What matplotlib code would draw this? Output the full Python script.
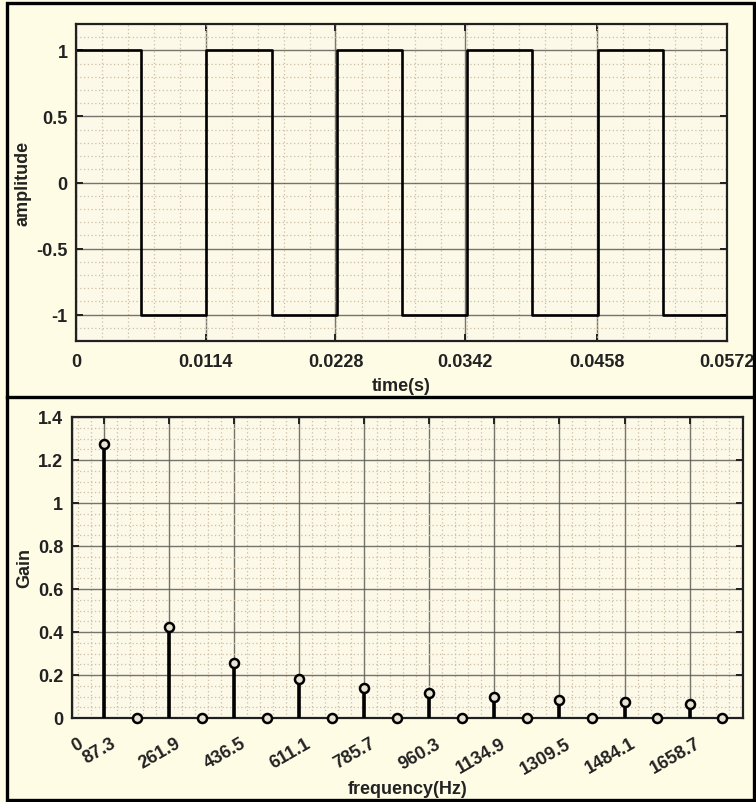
import matplotlib
matplotlib.use("Agg")
import matplotlib.pyplot as plt
from matplotlib.patches import Rectangle
from matplotlib.lines import Line2D
from matplotlib.ticker import MultipleLocator, FixedLocator
from matplotlib.transforms import ScaledTranslation

# Square wave (87.3 Hz)
edge_times = [0, 0.00573, 0.01146, 0.01719, 0.02292, 0.02865,
              0.03438, 0.04011, 0.04584, 0.05157, 0.0572]
levels = [1, -1, 1, -1, 1, -1, 1, -1, 1, -1]
time_ticks = [0, 0.0114, 0.0228, 0.0342, 0.0458, 0.0572]
time_labels = ["0", "0.0114", "0.0228", "0.0342", "0.0458", "0.0572"]

# Spectrum
freqs = [87.3, 174.6, 261.9, 349.2, 436.5, 523.8, 611.1, 698.4, 785.7, 873.0,
         960.3, 1047.6, 1134.9, 1222.2, 1309.5, 1396.8, 1484.1, 1571.4, 1658.7, 1746.0]
gains = [1.273, 0, 0.424, 0, 0.255, 0, 0.182, 0, 0.141, 0,
         0.116, 0, 0.098, 0, 0.085, 0, 0.075, 0, 0.067, 0]
freq_ticks = [0, 87.3, 261.9, 436.5, 611.1, 785.7, 960.3, 1134.9, 1309.5, 1484.1, 1658.7]
freq_labels = ["0", "87.3", "261.9", "436.5", "611.1", "785.7", "960.3",
               "1134.9", "1309.5", "1484.1", "1658.7"]

plt.rcParams['font.family'] = ['Liberation Sans', 'DejaVu Sans']
plt.rcParams['font.weight'] = 'bold'
plt.rcParams['font.size'] = 13
plt.rcParams['axes.labelweight'] = 'bold'

W, H = 756, 803
bg = "#fffce6"
ax_bg = "#fdf9e8"
major_c = "#5e5e56"
minor_c = "#cdbfa6"
text_c = "#222222"

fig = plt.figure(figsize=(W / 100, H / 100), dpi=100, facecolor=bg)


def fx(px):
    return px / W


def fy(py):
    return 1 - py / H


def style_axes(ax):
    ax.set_facecolor(ax_bg)
    for s in ax.spines.values():
        s.set_linewidth(1.6)
        s.set_color("#202020")
    ax.tick_params(which='major', direction='in', length=5, width=1.4,
                   top=True, right=True, colors="#202020", labelcolor=text_c)
    ax.tick_params(which='minor', length=0, top=True, right=True)
    ax.grid(True, which='major', color=major_c, linewidth=1.0, alpha=0.85)
    ax.grid(True, which='minor', color=minor_c, linewidth=0.9, linestyle=(0, (1, 2)))
    ax.set_axisbelow(True)


# ---- top panel: time domain ----
ax1 = fig.add_axes([fx(76), fy(342), fx(727 - 76), (342 - 25) / H])
style_axes(ax1)
ax1.step(edge_times, levels + [levels[-1]], where='post', color='black', linewidth=1.9)
ax1.set_xlim(0, 0.0572)
ax1.set_ylim(-1.2, 1.2)
ax1.xaxis.set_major_locator(FixedLocator(time_ticks))
ax1.set_xticklabels(time_labels)
ax1.xaxis.set_minor_locator(MultipleLocator(0.0572 / 25))
ax1.set_yticks([-1, -0.5, 0, 0.5, 1])
ax1.set_yticklabels(["-1", "-0.5", "0", "0.5", "1"])
ax1.yaxis.set_minor_locator(MultipleLocator(0.1))
ax1.tick_params(axis='x', pad=9)
ax1.tick_params(axis='y', pad=6)
ax1.set_xlabel("time(s)", color=text_c)
ax1.xaxis.label.set_va('center')
ax1.xaxis.set_label_coords(0.5, (342 - 387) / 317)
ax1.set_ylabel("amplitude", color=text_c)
ax1.yaxis.label.set_va('center')
ax1.yaxis.set_label_coords((23 - 76) / 651, 0.5)

# ---- bottom panel: spectrum ----
ax2 = fig.add_axes([fx(71.5), fy(719), fx(743 - 71.5), (719 - 418) / H])
style_axes(ax2)
ax2.vlines(freqs, 0, gains, color='black', linewidth=2.6, zorder=3)
ax2.plot(freqs, gains, linestyle='none', marker='o', markersize=6.5,
         markerfacecolor='#e8e4d4', markeredgecolor='black', markeredgewidth=1.8,
         zorder=4, clip_on=False)
ax2.set_xlim(0, 1802)
ax2.set_ylim(0, 1.4)
ax2.xaxis.set_major_locator(FixedLocator(freq_ticks))
ax2.set_xticklabels(freq_labels, rotation=30, ha='right', va='top',
                    rotation_mode='anchor')
ax2.xaxis.set_minor_locator(FixedLocator([87.3 + 34.92 * k for k in range(-2, 50)]))
ax2.set_yticks([0, 0.2, 0.4, 0.6, 0.8, 1.0, 1.2, 1.4])
ax2.set_yticklabels(["0", "0.2", "0.4", "0.6", "0.8", "1", "1.2", "1.4"])
ax2.yaxis.set_minor_locator(MultipleLocator(0.05))
ax2.tick_params(axis='x', pad=12)
ax2.tick_params(axis='y', pad=6)
shift = ScaledTranslation(6 / 100, 0, fig.dpi_scale_trans)
for lab in ax2.get_xticklabels():
    lab.set_transform(lab.get_transform() + shift)
ax2.set_xlabel("frequency(Hz)", color=text_c)
ax2.xaxis.label.set_va('center')
ax2.xaxis.set_label_coords(0.5, (719 - 790) / 301)
ax2.set_ylabel("Gain", color=text_c)
ax2.yaxis.label.set_va('center')
ax2.yaxis.set_label_coords((25 - 71.5) / 671.5, 0.5)

# ---- panel frames ----
fig.add_artist(Rectangle((fx(7), fy(801)), fx(754 - 7), (801 - 4) / H,
                         transform=fig.transFigure, fill=False,
                         edgecolor='black', linewidth=2.4))
fig.add_artist(Line2D([fx(7), fx(754)], [fy(398), fy(398)],
                      transform=fig.transFigure, color='black', linewidth=2.4))

fig.savefig("out.png", dpi=100, facecolor=bg)
